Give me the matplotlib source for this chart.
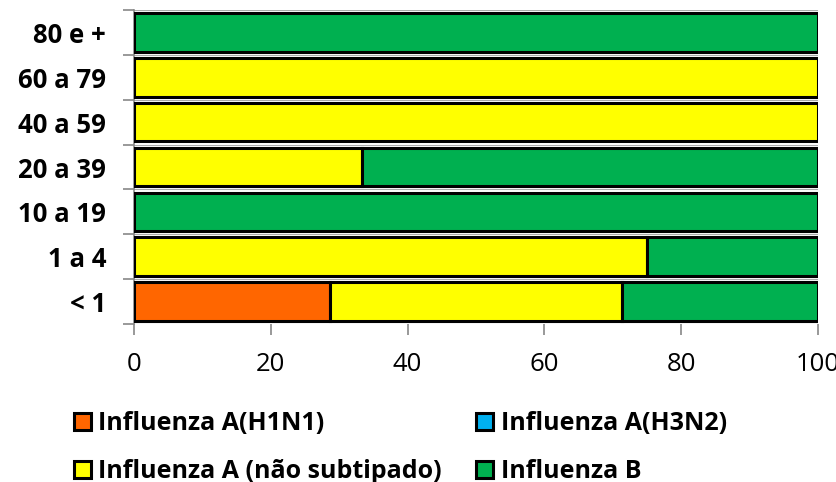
import matplotlib.pyplot as plt
import numpy as np
from matplotlib.patches import Patch

faixas = ["< 1", "1 a 4", "10 a 19", "20 a 39", "40 a 59", "60 a 79", "80 e +"]
h1n1 = [28.6, 0, 0, 0, 0, 0, 0]
h3n2 = [0, 0, 0, 0, 0, 0, 0]
nao_sub = [42.8, 75.0, 0, 33.3, 100.0, 100.0, 0]
flu_b = [28.6, 25.0, 100.0, 66.7, 0, 0, 100.0]

series = ["Influenza A(H1N1)", "Influenza A(H3N2)", "Influenza A (não subtipado)", "Influenza B"]
cores = ["#FF6600", "#00B0F0", "#FFFF00", "#00B050"]

plt.rcParams['font.family'] = ['Open Sans', 'DejaVu Sans']

fig = plt.figure(figsize=(8.36, 4.82), dpi=100)
ax = fig.add_axes([134 / 836, 1 - 324 / 482, (818 - 134) / 836, (324 - 10) / 482])

y = np.arange(len(faixas))
left = np.zeros(len(faixas))
for vals, cor in zip([h1n1, h3n2, nao_sub, flu_b], cores):
    v = np.array(vals)
    mask = v > 0
    ax.barh(y[mask], v[mask], left=left[mask], height=0.86, color=cor,
            edgecolor='black', linewidth=2.2, zorder=3)
    left += v

ax.set_xlim(0, 100)
ax.set_ylim(-0.5, len(faixas) - 0.5)
ax.set_xticks([0, 20, 40, 60, 80, 100])
ax.tick_params(axis='x', labelsize=18.5, colors='#888888', labelcolor='black',
               length=8, width=1.2, pad=12)
ax.set_yticks(y)
ax.set_yticklabels(faixas, fontsize=18.5, fontweight='bold')
ax.tick_params(axis='y', which='major', length=0, pad=20)
ax.set_yticks(np.arange(-0.5, len(faixas), 1), minor=True)
ax.tick_params(axis='y', which='minor', length=8, width=1.2, colors='#888888')
ax.grid(axis='y', which='minor', color='#aaaaaa', linewidth=0.8, zorder=1)

for s in ['top', 'right', 'bottom']:
    ax.spines[s].set_visible(False)
ax.spines['left'].set_color('#888888')
ax.spines['left'].set_linewidth(1.2)

handles = [Patch(facecolor=c, edgecolor='black', linewidth=2.2) for c in cores]
ordem = [0, 2, 1, 3]
fig.legend([handles[i] for i in ordem], [series[i] for i in ordem],
           ncol=2, loc='upper left', bbox_to_anchor=(61 / 836, 1 - 399 / 482),
           frameon=False, prop={'size': 18, 'weight': 'bold'},
           handlelength=0.68, handleheight=0.68, handletextpad=0.32,
           labelspacing=0.9, columnspacing=1.36, borderpad=0)

fig.savefig("out.png", dpi=100)
